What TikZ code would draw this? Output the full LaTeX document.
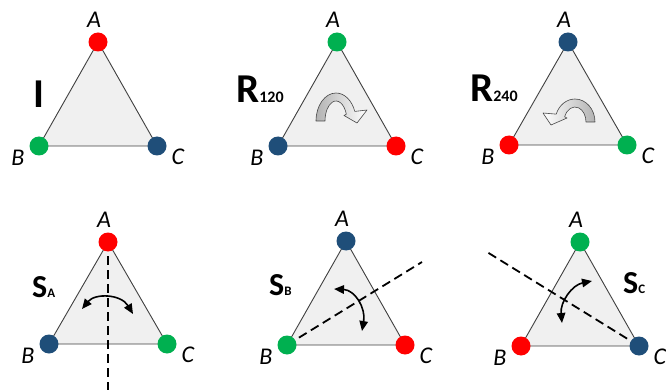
\documentclass[tikz,border=0pt]{standalone}
\usepackage{fontspec}
\setmainfont{Carlito}
\usetikzlibrary{arrows.meta,calc}
\definecolor{cred}{HTML}{FF0000}
\definecolor{cgreen}{HTML}{00B050}
\definecolor{cblue}{HTML}{1F4E79}
\definecolor{tfill}{HTML}{F0F0F0}
\definecolor{tedge}{HTML}{404040}
\tikzset{
  tri/.style={fill=tfill, draw=tedge, line width=0.9pt, line join=round},
  dot/.style={circle, inner sep=0pt, minimum size=19pt, draw=none},
  vlab/.style={font=\fontsize{24}{24}\selectfont\itshape, inner sep=0pt},
  oplab/.style={font=\fontsize{41}{41}\selectfont\bfseries, inner sep=0pt, anchor=base west},
  slab/.style={font=\fontsize{32}{32}\selectfont\bfseries, inner sep=0pt, anchor=base west},
  axisline/.style={line width=1.8pt, dash pattern=on 9pt off 5pt},
  flip/.style={line width=1.6pt, {Triangle[length=10pt,width=8.5pt]}-{Triangle[length=10pt,width=8.5pt]}},
  blockarrow/.style={draw=gray!55!black, line width=0.6pt, line join=round}
}
\newcommand\trishape[4]{%
  \coordinate (#1a) at #2; \coordinate (#1b) at #3; \coordinate (#1c) at #4;
  \draw[tri] (#1a) -- (#1b) -- (#1c) -- cycle;}
\newcommand\tridots[4]{%
  \node[dot, fill=#2] (#1A) at (#1a) {};
  \node[dot, fill=#3] (#1B) at (#1b) {};
  \node[dot, fill=#4] (#1C) at (#1c) {};
  \node[vlab] (#1LA) at ($(#1a)+(-4,-22)$) {A};
  \node[vlab] (#1LB) at ($(#1b)+(-21,12)$) {B};
  \node[vlab] (#1LC) at ($(#1c)+(21,11)$) {C};}
\begin{document}
\begin{tikzpicture}[x=1pt, y=-1pt]
\clip (0,0) rectangle (666,390);
\fill[white] (0,0) rectangle (666,390);
% triangles
\trishape{t1}{(98,42)}{(39,146)}{(157,146)}
\trishape{t2}{(337,42)}{(278,146)}{(396,146)}
\trishape{t3}{(568,42)}{(509,145)}{(627,145)}
\trishape{t4}{(108,242)}{(49,344)}{(167,344)}
\trishape{t5}{(346,241)}{(287,345)}{(405,345)}
\trishape{t6}{(580,242)}{(521,346)}{(639,346)}
% mirror axes
\coordinate (d4) at (108,390);
\coordinate (d5) at (422,262);
\coordinate (d6) at (487,252);
\draw[axisline] (t4a) -- (d4);
\draw[axisline] (t5b) -- (d5);
\draw[axisline] (t6c) -- (d6);
% rotation block arrows
\coordinate (r1) at (336,121);
\path[blockarrow, left color=gray!60, right color=white]
  ($(r1)+(-20,0)$) arc[start angle=180, end angle=340, x radius=20, y radius=28]
  -- (367,110) -- (357,123) -- (344,115.5)
  -- ($(r1)+({11*cos(340)},{20*sin(340)})$)
  arc[start angle=340, end angle=180, x radius=11, y radius=20] -- cycle;
\coordinate (r2) at (575,122);
\path[blockarrow, left color=white, right color=gray!60]
  ($(r2)+(20,0)$) arc[start angle=360, end angle=200, x radius=20, y radius=23]
  -- (543,113) -- (551,125) -- (567,118)
  -- ($(r2)+({11*cos(200)},{15*sin(200)})$)
  arc[start angle=200, end angle=360, x radius=11, y radius=15] -- cycle;
% reflection flip arrows
\coordinate (f4s) at (82,309); \coordinate (f4e) at (133,314);
\draw[flip] (f4s) .. controls (95,293) and (121,294) .. (f4e);
\coordinate (f5s) at (334,289); \coordinate (f5e) at (362,331);
\draw[flip] (f5s) .. controls (355,290) and (366,308) .. (f5e);
\coordinate (f6s) at (592,281); \coordinate (f6e) at (562,323);
\draw[flip] (f6s) .. controls (572,285) and (560,302) .. (f6e);
% vertices
\tridots{t1}{cred}{cgreen}{cblue}
\tridots{t2}{cgreen}{cblue}{cred}
\tridots{t3}{cblue}{cred}{cgreen}
\tridots{t4}{cred}{cblue}{cgreen}
\tridots{t5}{cblue}{cgreen}{cred}
\tridots{t6}{cgreen}{cred}{cblue}
% operation labels
\node[oplab] (opI) at (33,108) {I};
\node[oplab] (opR1) at (236,103) {R\fontsize{16}{16}\selectfont 120};
\node[oplab] (opR2) at (470,102) {R\fontsize{16}{16}\selectfont 240};
\node[slab] (opSA) at (32,297) {S\fontsize{13}{13}\selectfont A};
\node[slab] (opSB) at (269,295) {S\fontsize{13}{13}\selectfont B};
\node[slab] (opSC) at (623,293) {S\fontsize{13}{13}\selectfont C};
\end{tikzpicture}
\end{document}
